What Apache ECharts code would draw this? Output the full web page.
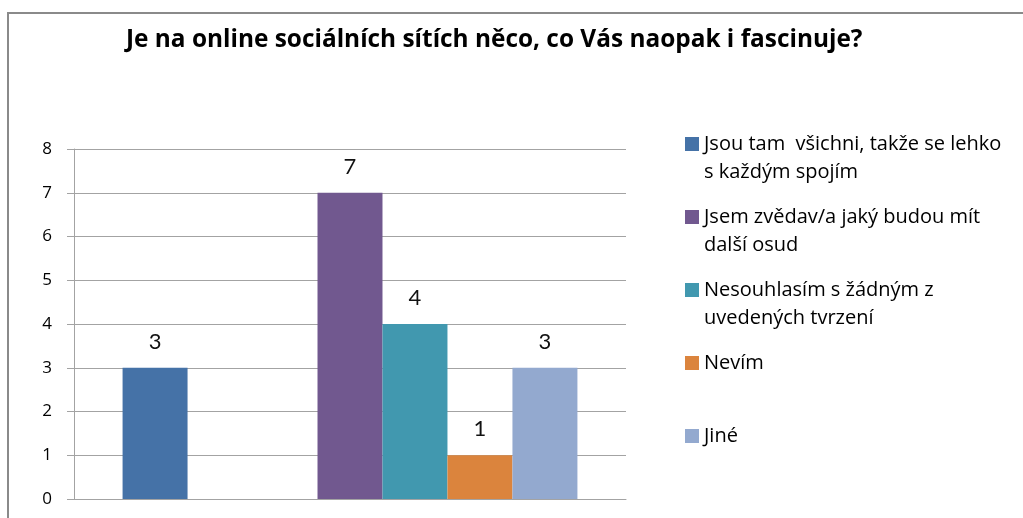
<!DOCTYPE html>
<html>
<head>
<meta charset="utf-8">
<script src="https://cdn.jsdelivr.net/npm/echarts@6/dist/echarts.min.js"></script>
<style>
  html, body { margin: 0; padding: 0; background: #fff; }
  #chart { width: 1023px; height: 518px; }
</style>
</head>
<body>
<div id="chart"></div>
<script>
// ---- data ----
const chartTitle = "Je na online sociálních sítích něco, co Vás naopak i fascinuje?";
const categories = [""];
const answers = [
  "Jsou tam všichni, takže se lehko s každým spojím",
  "Jsem zvědav/a jaký budou mít další osud",
  "Nesouhlasím s žádným z uvedených tvrzení",
  "Nevím",
  "Jiné"
];
const counts = [3, 7, 4, 1, 3];
const yTicks = [0, 1, 2, 3, 4, 5, 6, 7, 8];

// ---- styles ----
const colors = ["#4572A7", "#71588F", "#4198AF", "#DB843D", "#93A9CF"];
// legend wrapping (a leading blank line keeps the marker level with the first line)
const legendText = {
  "Jsou tam všichni, takže se lehko s každým spojím": "\nJsou tam  všichni, takže se lehko\ns každým spojím",
  "Jsem zvědav/a jaký budou mít další osud": "\nJsem zvědav/a jaký budou mít\ndalší osud",
  "Nesouhlasím s žádným z uvedených tvrzení": "\nNesouhlasím s žádným z\nuvedených tvrzení",
  "Nevím": "\nNevím\n ",
  "Jiné": "\nJiné\n "
};
const FONT = "Open Sans";
const gridColor = "#a3a3a3";

const series = [];
answers.forEach(function (name, i) {
  series.push({
    name: name,
    type: "bar",
    data: [counts[i]],
    itemStyle: { color: colors[i] },
    barGap: "0%",
    barCategoryGap: "17.6%",
    label: {
      show: true,
      position: "top",
      distance: 15,
      fontFamily: "Lato",
      fontSize: 22,
      color: "#111"
    }
  });
  // the source chart leaves two empty series slots after the first answer
  if (i === 0) {
    for (let k = 0; k < 2; k++) {
      series.push({
        name: "__gap" + k,
        type: "bar",
        data: [null],
        barGap: "0%",
        barCategoryGap: "17.6%",
        silent: true
      });
    }
  }
});

const chart = echarts.init(document.getElementById("chart"), null, { renderer: "canvas" });
chart.setOption({
  animation: false,
  backgroundColor: "#fff",
  textStyle: { fontFamily: FONT },
  title: {
    text: chartTitle,
    left: 121,
    top: 23,
    textStyle: { fontFamily: FONT, fontSize: 24.4, fontWeight: "bold", color: "#000" }
  },
  graphic: [{
    type: "rect",
    silent: true,
    z: -10,
    shape: { x: 8, y: 13, width: 1200, height: 700 },
    style: { fill: null, stroke: "#8a8a8a", lineWidth: 2 }
  }],
  legend: {
    show: true,
    data: answers,
    orient: "vertical",
    left: 685,
    top: 102,
    padding: 0,
    itemGap: -11,
    itemWidth: 14,
    itemHeight: 14,
    icon: "rect",
    selectedMode: false,
    formatter: function (name) { return legendText[name] || name; },
    textStyle: {
      fontFamily: FONT,
      fontSize: 20,
      lineHeight: 28,
      color: "#000"
    }
  },
  grid: { left: 74, right: 397, top: 149, bottom: 19, containLabel: false },
  xAxis: {
    type: "category",
    data: categories,
    axisLine: { show: true, lineStyle: { color: gridColor, width: 1 } },
    axisTick: { show: false },
    axisLabel: { show: false },
    splitLine: { show: false }
  },
  yAxis: {
    type: "value",
    min: yTicks[0],
    max: yTicks[yTicks.length - 1],
    interval: 1,
    axisLine: { show: true, lineStyle: { color: gridColor, width: 1 } },
    axisTick: { show: true, length: 7, lineStyle: { color: gridColor } },
    axisLabel: { margin: 22, fontFamily: FONT, fontSize: 17, color: "#000" },
    splitLine: { show: true, lineStyle: { color: gridColor, width: 1 } }
  },
  series: series
});
</script>
</body>
</html>
